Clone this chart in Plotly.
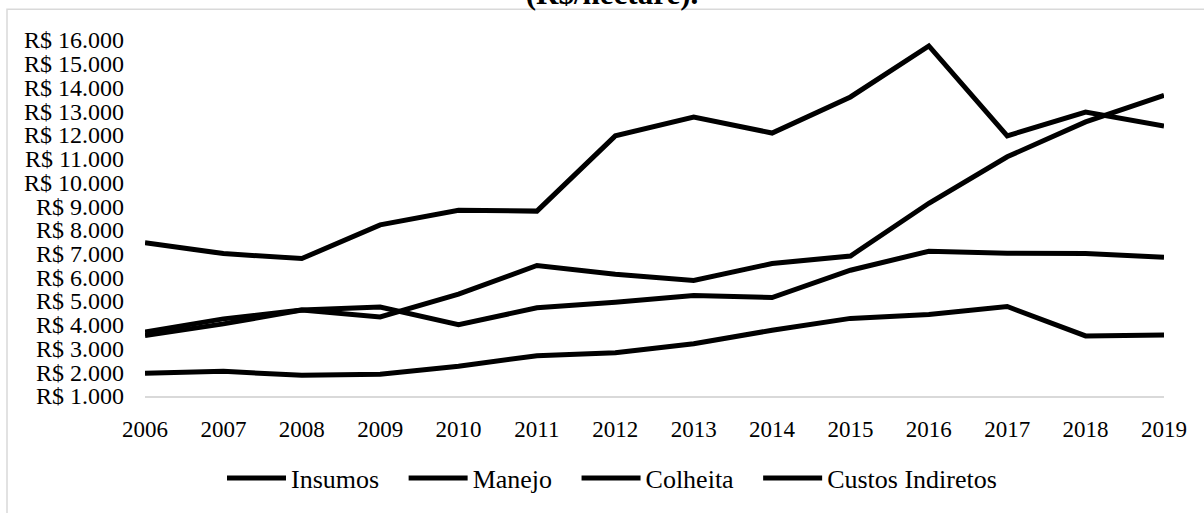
import plotly.graph_objects as go

anos = [2006, 2007, 2008, 2009, 2010, 2011, 2012, 2013, 2014, 2015, 2016, 2017, 2018, 2019]

insumos = [7460, 7000, 6790, 8210, 8830, 8790, 11960, 12750, 12080, 13600, 15750, 11960, 12960, 12375]
manejo = [3700, 4250, 4620, 4750, 4000, 4720, 4950, 5230, 5150, 6300, 7100, 7020, 7000, 6850]
colheita = [3550, 4040, 4620, 4330, 5290, 6500, 6130, 5870, 6580, 6900, 9120, 11080, 12550, 13670]
custos_indiretos = [1960, 2040, 1870, 1920, 2250, 2700, 2820, 3200, 3770, 4270, 4430, 4770, 3530, 3570]

nomes = ["Insumos", "Manejo", "Colheita", "Custos Indiretos"]
valores = [insumos, manejo, colheita, custos_indiretos]

tick_vals = list(range(1000, 16001, 1000))
tick_text = ["R$ " + f"{v:,}".replace(",", ".") for v in tick_vals]

PAD = "\u00a0" * 3  # extra spacing between legend entries

fig = go.Figure()
for i, (nome, vals) in enumerate(zip(nomes, valores)):
    label = nome + (PAD if i < len(nomes) - 1 else "")
    fig.add_trace(go.Scatter(
        x=anos, y=vals, name=label, mode="lines",
        line=dict(color="#000000", width=5),
    ))

W, H = 1204, 513
L, R, T, B = 145, 40, 40, 113
pw, ph = W - L - R, H - T - B

def px_x(p):
    return (p - L) / pw

def px_y(p):
    return (H - B - p) / ph

fig.update_layout(
    width=W, height=H,
    margin=dict(l=L, r=R, t=T, b=B, pad=0),
    paper_bgcolor="white", plot_bgcolor="white",
    font=dict(family="Liberation Serif", color="#000000", size=23),
    title=dict(
        text="<b>(R$/hectare).</b>",
        x=612 / W, xanchor="center",
        y=1 - 4 / H, yanchor="bottom", yref="container",
        font=dict(family="Liberation Serif", size=31, color="#000000"),
    ),
    xaxis=dict(
        range=[2006, 2019], tickvals=anos, ticktext=[str(a) for a in anos],
        showgrid=False, zeroline=False, showline=True,
        linecolor="#d9d9d9", linewidth=1.5, ticks="",
        ticklabelstandoff=12,
        tickfont=dict(size=23, family="Liberation Serif", color="#000000"),
    ),
    yaxis=dict(
        range=[1000, 16000], tickvals=tick_vals, ticktext=tick_text,
        showgrid=False, zeroline=False, showline=False, ticks="",
        ticklabelstandoff=20,
        tickfont=dict(size=24, family="Liberation Serif", color="#000000"),
    ),
    legend=dict(
        orientation="h", x=px_x(222), xanchor="left",
        y=px_y(483), yanchor="middle",
        font=dict(size=26, family="Liberation Serif", color="#000000"),
        itemwidth=59,
        bgcolor="rgba(0,0,0,0)",
    ),
    showlegend=True,
    shapes=[dict(
        type="rect", xref="paper", yref="paper",
        x0=px_x(7), x1=px_x(1215), y0=px_y(525), y1=px_y(9),
        line=dict(color="#d9d9d9", width=1.5), fillcolor="rgba(0,0,0,0)",
        layer="above",
    )],
)

fig.write_html(
    "out.html",
    config={"displayModeBar": False},
    post_script="document.body.style.margin='0px';document.body.style.overflow='hidden';",
)
